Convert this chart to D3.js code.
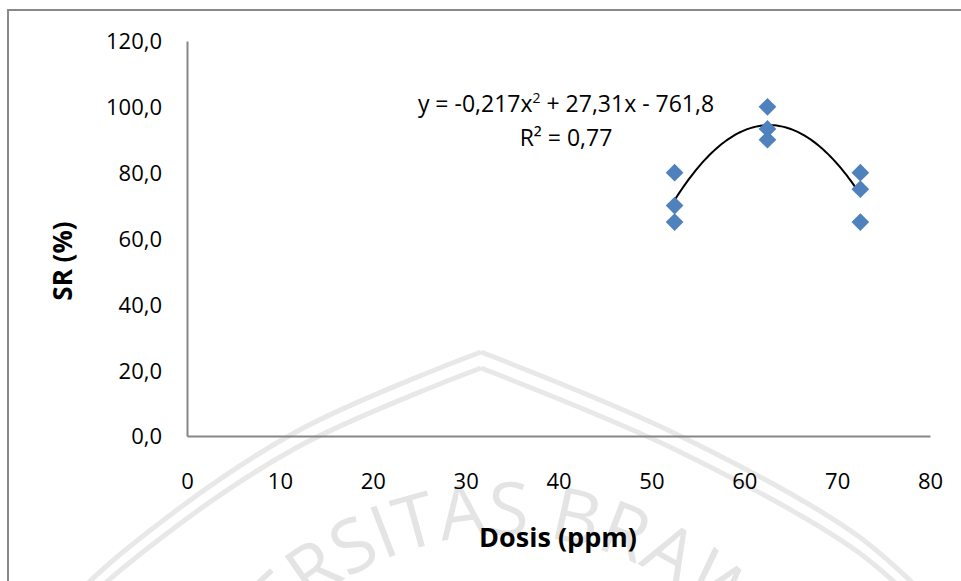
<!DOCTYPE html>
<html>
<head>
<meta charset="utf-8">
<script src="https://cdn.jsdelivr.net/npm/d3@7"></script>
<style>
  body { margin: 0; background: #fff; }
  svg { display: block; }
  text { font-family: "Open Sans", "Noto Sans", sans-serif; fill: #000; }
</style>
</head>
<body>
<svg id="chart" width="961" height="581"></svg>
<script>
// dose levels (ppm) and survival rate replicates (%)
const doses = [52.5, 52.5, 52.5, 62.5, 62.5, 62.5, 72.5, 72.5, 72.5];
const survival = [80, 70, 65, 100, 93.3, 90, 80, 75, 65];

// axis ticks
const xTicks = [0, 10, 20, 30, 40, 50, 60, 70, 80];
const yTicks = [0, 20, 40, 60, 80, 100, 120];

// trendline label as shown on the chart
const eqText = ['y = -0,217x', '2', ' + 27,31x - 761,8'];
const r2Text = ['R', '²', ' = 0,77'];

const svg = d3.select('#chart');

// faint university watermark behind the chart
const wm = svg.append('g').attr('fill', 'none').attr('stroke', '#e8e8e8').attr('stroke-width', 5);
const side = d3.line().curve(d3.curveCatmullRom);
[0, 16].forEach(function (dy) {
  wm.append('path')
    .attr('d', side([[30, 640 + dy], [123, 552 + dy], [294, 433 + dy], [481, 352 + dy]]));
  wm.append('path')
    .attr('d', side([[481, 352 + dy], [674, 433 + dy], [858, 536 + dy], [950, 620 + dy]]));
});
svg.append('defs').append('path').attr('id', 'wmArc')
  .attr('d', 'M 195 845 A 310 310 0 0 1 815 845');
svg.append('text')
  .attr('font-size', 74)
  .style('fill', '#e4e4e4')
  .append('textPath')
  .attr('href', '#wmArc')
  .attr('startOffset', '50%')
  .attr('text-anchor', 'middle')
  .text('UNIVERSITAS BRAWIJAYA');

// outer chart border
svg.append('path')
  .attr('d', 'M 8 590 L 8 10 L 970 10')
  .attr('fill', 'none')
  .attr('stroke', '#898989')
  .attr('stroke-width', 2);

// scales
const x = d3.scaleLinear().domain([0, 80]).range([187, 930]);
const y = d3.scaleLinear().domain([0, 120]).range([436, 41]);

// axes without tick marks
const xAxis = svg.append('g')
  .attr('transform', `translate(0,${y(0)})`)
  .call(d3.axisBottom(x).tickValues(xTicks).tickSize(0).tickPadding(0).tickFormat(d3.format('d')));
xAxis.select('.domain').attr('stroke', '#868686').attr('stroke-width', 2);
xAxis.selectAll('text')
  .attr('font-size', 22)
  .attr('dy', null)
  .attr('y', 53)
  .attr('font-family', '"Open Sans", sans-serif');

const yAxis = svg.append('g')
  .attr('transform', `translate(${x(0)},0)`)
  .call(d3.axisLeft(y).tickValues(yTicks).tickSize(0).tickPadding(0)
    .tickFormat(function (d) { return d.toFixed(1).replace('.', ','); }));
yAxis.select('.domain').attr('stroke', '#868686').attr('stroke-width', 2);
yAxis.selectAll('text')
  .attr('font-size', 22)
  .attr('x', -25)
  .attr('dy', '0.36em')
  .attr('font-family', '"Open Sans", sans-serif');

// axis titles
svg.append('text')
  .attr('x', 558)
  .attr('y', 547)
  .attr('text-anchor', 'middle')
  .attr('font-size', 27)
  .attr('font-weight', 'bold')
  .text('Dosis (ppm)');

svg.append('text')
  .attr('transform', 'translate(72,261) rotate(-90)')
  .attr('text-anchor', 'middle')
  .attr('font-size', 26)
  .attr('font-weight', 'bold')
  .text('SR (%)');

// least squares quadratic trendline from the data
function fitQuadratic(xs, ys) {
  let s = [0, 0, 0, 0, 0], t = [0, 0, 0];
  xs.forEach(function (xv, i) {
    for (let k = 0; k < 5; k++) s[k] += Math.pow(xv, k);
    for (let k = 0; k < 3; k++) t[k] += ys[i] * Math.pow(xv, k);
  });
  const m = [[s[0], s[1], s[2], t[0]], [s[1], s[2], s[3], t[1]], [s[2], s[3], s[4], t[2]]];
  for (let c = 0; c < 3; c++) {
    for (let r = c + 1; r < 3; r++) {
      const f = m[r][c] / m[c][c];
      for (let k = c; k < 4; k++) m[r][k] -= f * m[c][k];
    }
  }
  const coef = [0, 0, 0];
  for (let r = 2; r >= 0; r--) {
    let v = m[r][3];
    for (let k = r + 1; k < 3; k++) v -= m[r][k] * coef[k];
    coef[r] = v / m[r][r];
  }
  return coef;
}
const coef = fitQuadratic(doses, survival);
const curveX = d3.range(52.5, 72.51, 0.25);
svg.append('path')
  .datum(curveX)
  .attr('fill', 'none')
  .attr('stroke', '#000')
  .attr('stroke-width', 2)
  .attr('d', d3.line()
    .x(function (d) { return x(d); })
    .y(function (d) { return y(coef[0] + coef[1] * d + coef[2] * d * d); }));

// data points as diamonds
svg.append('g')
  .selectAll('path')
  .data(doses)
  .join('path')
  .attr('transform', function (d, i) { return `translate(${x(d)},${y(survival[i])})`; })
  .attr('d', d3.symbol().type(d3.symbolDiamond2).size(200))
  .attr('fill', '#4f81bd');

// equation label
const eq = svg.append('text')
  .attr('x', 566)
  .attr('y', 112)
  .attr('text-anchor', 'middle')
  .attr('font-size', 23);
eq.append('tspan').text(eqText[0]);
eq.append('tspan').attr('font-size', 14).attr('dy', -9).text(eqText[1]);
eq.append('tspan').attr('dy', 9).text(eqText[2]);

svg.append('text')
  .attr('x', 566)
  .attr('y', 146)
  .attr('text-anchor', 'middle')
  .attr('font-size', 23)
  .text(r2Text.join(''));
</script>
</body>
</html>
